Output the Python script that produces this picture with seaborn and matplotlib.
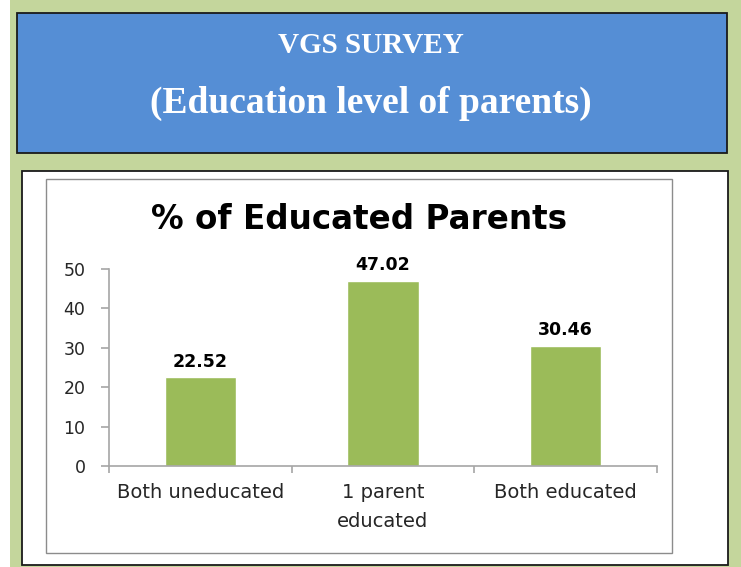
import matplotlib
matplotlib.use("Agg")
import matplotlib.pyplot as plt
from matplotlib.patches import Rectangle
import pandas as pd
import seaborn as sns

# data
categories = ['Both uneducated', '1 parent\neducated', 'Both educated']
percent = [22.52, 47.02, 30.46]
yticks = [0, 10, 20, 30, 40, 50]

banner_line1 = 'VGS SURVEY'
banner_line2 = '(Education level of parents)'
chart_title = '% of Educated Parents'

green_bg = '#c4d69c'
blue_box = '#558ed5'
bar_green = '#9bbb59'
axis_grey = '#a6a6a6'

sns.set_theme(style='white')
plt.rcParams['font.family'] = ['DejaVu Sans']

df = pd.DataFrame({'Category': categories, 'Percent': percent})

fig = plt.figure(figsize=(7.41, 5.67), dpi=100)
fig.patch.set_facecolor(green_bg)

# thin white strip on the far left of the screenshot
fig.patches.append(Rectangle((0, 0), 0.0135, 1, transform=fig.transFigure,
                             facecolor='white', edgecolor='none', zorder=-11))

# blue banner
fig.patches.append(Rectangle((0.023, 0.730), 0.958, 0.247, transform=fig.transFigure,
                             facecolor=blue_box, edgecolor='#1a1a1a', lw=1.3, zorder=-10))
fig.text(0.5, 0.919, banner_line1, ha='center', va='center', color='white',
         fontsize=21, fontweight='bold', family=['Liberation Serif', 'DejaVu Serif'])
fig.text(0.5, 0.817, banner_line2, ha='center', va='center', color='white',
         fontsize=27, fontweight='bold', family=['Liberation Serif', 'DejaVu Serif'])

# white outer box and grey chart-area box
fig.patches.append(Rectangle((0.030, 0.0035), 0.953, 0.695, transform=fig.transFigure,
                             facecolor='white', edgecolor='#1a1a1a', lw=1.3, zorder=-10))
fig.patches.append(Rectangle((0.062, 0.0247), 0.845, 0.6596, transform=fig.transFigure,
                             facecolor='white', edgecolor='#8c8c8c', lw=1.0, zorder=-9))

fig.text(0.484, 0.612, chart_title, ha='center', va='center', color='black',
         fontsize=23.5, fontweight='bold')

ax = fig.add_axes([0.1471, 0.1781, 0.7395, 0.3474])
ax.set_zorder(1)
ax.set_facecolor('none')
sns.barplot(data=df, x='Category', y='Percent', color=bar_green, width=0.39,
            saturation=1, ax=ax)

for i, v in enumerate(percent):
    ax.text(i, v + 2.7, f'{v:.2f}', ha='center', va='baseline', fontsize=12.5,
            fontweight='bold', color='black')

ax.set_ylim(0, 50)
ax.set_xlim(-0.5, 2.5)
ax.set_yticks(yticks)
ax.set_xlabel('')
ax.set_ylabel('')

for side in ['top', 'right']:
    ax.spines[side].set_visible(False)
for side in ['left', 'bottom']:
    ax.spines[side].set_color(axis_grey)
    ax.spines[side].set_linewidth(1.2)

ax.tick_params(axis='y', which='major', left=True, length=6, width=1.2, color=axis_grey,
               labelsize=12.5, labelcolor='#262626', pad=11)
ax.set_xticks([-0.5, 0.5, 1.5, 2.5], minor=True)
ax.tick_params(axis='x', which='minor', bottom=True, length=5, width=1.2, color=axis_grey)
ax.tick_params(axis='x', which='major', bottom=False, labelsize=14,
               labelcolor='#262626', pad=6)
for lab in ax.get_xticklabels():
    lab.set_linespacing(1.7)

fig.savefig('out.png', dpi=100, facecolor=fig.get_facecolor())
